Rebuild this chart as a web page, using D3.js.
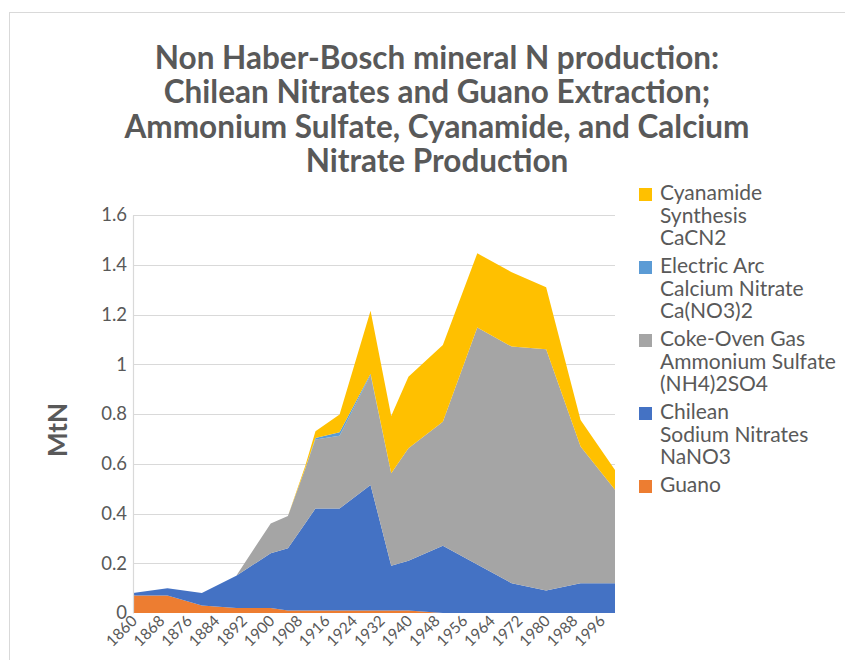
<!DOCTYPE html>
<html>
<head>
<meta charset="utf-8">
<script src="https://cdn.jsdelivr.net/npm/d3@7"></script>
<style>
  body { margin: 0; background: #fff; }
  svg { font-family: Lato, 'Open Sans', sans-serif; }
</style>
</head>
<body>
<div id="chart"></div>
<script>
const years = [1860, 1870, 1880, 1890, 1900, 1905, 1910, 1913, 1920, 1929, 1935, 1940, 1950, 1960, 1970, 1980, 1990, 2000]
const guano = [0.07, 0.07, 0.03, 0.02, 0.02, 0.01, 0.01, 0.01, 0.01, 0.01, 0.01, 0.01, 0, 0, 0, 0, 0, 0]
const chilean = [0.01, 0.03, 0.05, 0.13, 0.22, 0.25, 0.35, 0.41, 0.41, 0.505, 0.18, 0.2, 0.27, 0.195, 0.12, 0.09, 0.12, 0.12]
const cokeOven = [0, 0, 0, 0, 0.12, 0.13, 0.22, 0.277, 0.293, 0.442, 0.372, 0.452, 0.499, 0.953, 0.951, 0.97, 0.549, 0.375]
const electricArc = [0, 0, 0, 0, 0, 0, 0, 0.007, 0.014, 0.005, 0, 0, 0, 0, 0, 0, 0, 0]
const cyanamide = [0, 0, 0, 0, 0, 0, 0.01, 0.027, 0.071, 0.253, 0.23, 0.288, 0.308, 0.298, 0.299, 0.25, 0.107, 0.08]

const tickYears = d3.range(1860, 2000, 8)
const yTicks = [0, 0.2, 0.4, 0.6, 0.8, 1, 1.2, 1.4, 1.6]

const keys = ['guano', 'chilean', 'cokeOven', 'electricArc', 'cyanamide']
const colors = {
  guano: '#ED7D31',
  chilean: '#4472C4',
  cokeOven: '#A5A5A5',
  electricArc: '#5B9BD5',
  cyanamide: '#FFC000',
}
const legendItems = [
  { key: 'cyanamide', lines: ['Cyanamide', 'Synthesis', 'CaCN2'] },
  { key: 'electricArc', lines: ['Electric Arc', 'Calcium Nitrate', 'Ca(NO3)2'] },
  { key: 'cokeOven', lines: ['Coke-Oven Gas', 'Ammonium Sulfate', '(NH4)2SO4'] },
  { key: 'chilean', lines: ['Chilean', 'Sodium Nitrates', 'NaNO3'] },
  { key: 'guano', lines: ['Guano'] },
]
const titleLines = [
  'Non Haber-Bosch mineral N production:',
  'Chilean Nitrates and Guano Extraction;',
  'Ammonium Sulfate, Cyanamide, and Calcium',
  'Nitrate Production',
]

const rows = years.map((year, i) => ({
  year,
  guano: guano[i],
  chilean: chilean[i],
  cokeOven: cokeOven[i],
  electricArc: electricArc[i],
  cyanamide: cyanamide[i],
}))

const width = 845
const height = 660
const plot = { LEFT: 133, RIGHT: 615, TOP: 215, BOTTOM: 613 }
const textColor = '#595959'

const svg = d3
  .select('#chart')
  .append('svg')
  .attr('width', width)
  .attr('height', height)

// chart frame
svg
  .append('rect')
  .attr('x', 9.5)
  .attr('y', 12.5)
  .attr('width', 900)
  .attr('height', 700)
  .attr('fill', '#fff')
  .attr('stroke', '#d9d9d9')

const x = d3.scaleLinear().domain([1860, 2000]).range([plot.LEFT, plot.RIGHT])
const y = d3.scaleLinear().domain([0, 1.6]).range([plot.BOTTOM, plot.TOP])

// grid
svg
  .append('g')
  .selectAll('line')
  .data(yTicks.slice(1))
  .join('line')
  .attr('x1', plot.LEFT)
  .attr('x2', plot.RIGHT)
  .attr('y1', d => Math.round(y(d)) + 0.5)
  .attr('y2', d => Math.round(y(d)) + 0.5)
  .attr('stroke', '#d9d9d9')
  .attr('stroke-width', 1.2)

const stack = d3.stack().keys(keys)(rows)

const area = d3
  .area()
  .x(d => x(d.data.year))
  .y0(d => y(d[0]))
  .y1(d => y(d[1]))

svg
  .append('g')
  .selectAll('path')
  .data(stack)
  .join('path')
  .attr('fill', d => colors[d.key])
  .attr('d', area)

// y axis
const yAxis = g =>
  g
    .attr('transform', `translate(${plot.LEFT}, 0)`)
    .call(d3.axisLeft(y).tickValues(yTicks).tickFormat(d3.format('~g')).tickSize(0).tickPadding(6))
    .call(g => g.select('.domain').attr('stroke', '#d9d9d9').attr('stroke-width', 1.2))
    .call(g =>
      g.selectAll('text').attr('fill', textColor).style('font-size', '18.5px').style('font-family', 'Lato')
    )

svg.append('g').call(yAxis)

// x axis labels
svg
  .append('g')
  .selectAll('text')
  .data(tickYears)
  .join('text')
  .attr('transform', d => `translate(${x(d) + 5}, 622) rotate(-45)`)
  .attr('text-anchor', 'end')
  .attr('fill', textColor)
  .style('font-size', '15.5px')
  .text(d => d)

// axis title
svg
  .append('text')
  .attr('transform', 'translate(67, 430) rotate(-90)')
  .attr('text-anchor', 'middle')
  .attr('fill', textColor)
  .style('font-size', '26px')
  .style('font-weight', 'bold')
  .text('MtN')

// title
svg
  .append('g')
  .selectAll('text')
  .data(titleLines)
  .join('text')
  .attr('x', 437)
  .attr('y', (d, i) => 69 + i * 34.3)
  .attr('text-anchor', 'middle')
  .attr('fill', textColor)
  .style('font-size', '31.5px')
  .style('font-weight', 'bold')
  .text(d => d)

// legend
const legend = svg
  .append('g')
  .selectAll('g')
  .data(legendItems)
  .join('g')
  .attr('transform', (d, i) => `translate(639, ${200 + i * 73})`)

legend
  .append('rect')
  .attr('y', -12)
  .attr('width', 13)
  .attr('height', 13)
  .attr('fill', d => colors[d.key])

legend
  .append('text')
  .attr('fill', textColor)
  .style('font-size', '21px')
  .selectAll('tspan')
  .data(d => d.lines)
  .join('tspan')
  .attr('x', 21)
  .attr('y', (d, i) => i * 22.7)
  .text(d => d)
</script>
</body>
</html>
